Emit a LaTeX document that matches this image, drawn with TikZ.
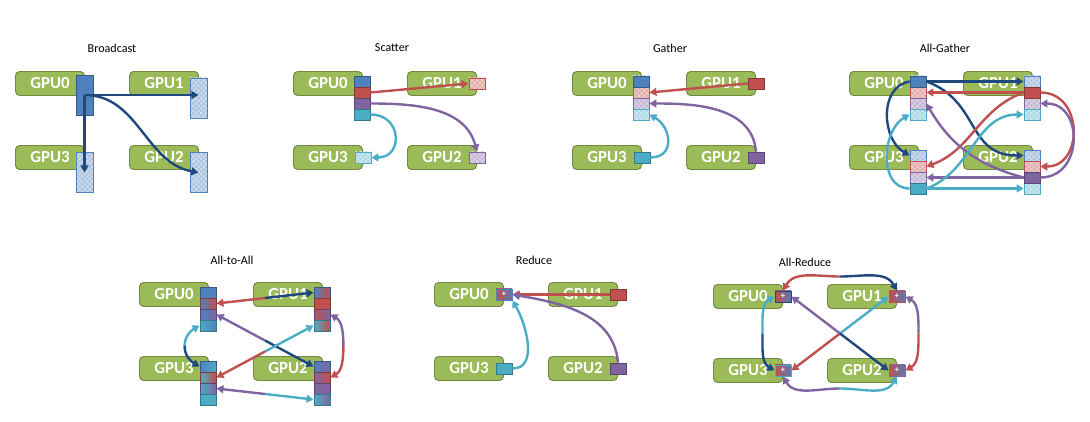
\documentclass[tikz,border=0pt]{standalone}
\usepackage{fontspec}
\setmainfont{Carlito}
\usetikzlibrary{arrows.meta, patterns, calc}

\definecolor{gpugreen}{HTML}{9BBB59}
\definecolor{gpuedge}{HTML}{71893F}
\definecolor{cblue}{HTML}{4F81BD}
\definecolor{cred}{HTML}{C0504D}
\definecolor{cpurple}{HTML}{8064A2}
\definecolor{cteal}{HTML}{4BACC6}
\definecolor{cdark}{HTML}{1F497D}

% small checker for data that is not yet there
\pgfdeclarepatternformonly{finechecker}{\pgfqpoint{-.05pt}{-.05pt}}{\pgfqpoint{3.65pt}{3.65pt}}{\pgfqpoint{3.6pt}{3.6pt}}{
  \pgfpathrectangle{\pgfpointorigin}{\pgfqpoint{1.85pt}{1.85pt}}
  \pgfpathrectangle{\pgfqpoint{1.8pt}{1.8pt}}{\pgfqpoint{1.85pt}{1.85pt}}
  \pgfusepath{fill}}

\tikzset{
  gpubox/.style={rectangle, rounded corners=3pt, fill=gpugreen, draw=gpuedge, line width=0.7pt,
    minimum width=1.725cm, minimum height=0.6cm, inner sep=0pt, anchor=north west,
    text=white, font=\bfseries\fontsize{12}{12}\selectfont},
  paneltitle/.style={font=\fontsize{8.6}{10}\selectfont},
  chunk/.style={rectangle, minimum width=0.4cm, minimum height=0.275cm, inner sep=0pt,
    line width=0.6pt, draw=#1!70!black, fill=#1},
  ghost/.style={rectangle, minimum width=0.4cm, minimum height=0.275cm, inner sep=0pt,
    line width=0.6pt, draw=#1, preaction={fill=#1!48!white}, pattern=finechecker,
    pattern color=#1!30!white},
  blendchunk/.style n args={3}{rectangle, minimum width=0.4cm, minimum height=0.275cm,
    inner sep=0pt, line width=0.6pt, draw=#3!70!black, left color=#1, right color=#2},
  sumchunk/.style={rectangle, minimum width=0.4cm, minimum height=0.275cm, inner sep=0pt,
    line width=0.7pt, draw=#1, left color=cred, right color=cblue!70!cpurple,
    text=white, font=\bfseries\fontsize{6}{6}\selectfont},
  flow/.style={draw=#1, line width=1.7pt, -{Triangle[length=5pt,width=5.6pt]}}
}

\begin{document}
\begin{tikzpicture}[x=0.025cm, y=-0.025cm]
\useasboundingbox (0,0) rectangle (1090,421);

% Broadcast
\begin{scope}[shift={(15,71)}]
  \node[paneltitle] (bct) at (97,-23) {Broadcast};
  \foreach \n/\x/\y in {0/0/0, 1/114/0, 3/0/74, 2/114/74}
    \node[gpubox] (bc\n) at (\x,\y) {GPU\n};
  \node[chunk=cblue, minimum width=0.425cm, minimum height=1cm] (bc0d) at (69.5,24) {};
  \node[ghost=cblue, minimum width=0.425cm, minimum height=1cm] (bc1d) at (183.5,27) {};
  \node[ghost=cblue, minimum width=0.425cm, minimum height=1cm] (bc3d) at (69.5,101.5) {};
  \node[ghost=cblue, minimum width=0.425cm, minimum height=1cm] (bc2d) at (183.5,101.5) {};
  \draw[flow=cdark] (bc0d.center) -- (bc0d.center -| bc1d.center);
  \draw[flow=cdark] (bc0d.center) -- (bc3d.center);
  \draw[flow=cdark] (bc0d.center) to[out=0, in=170] (bc2d.center);
\end{scope}

% Scatter
\begin{scope}[shift={(293,71)}]
  \node[paneltitle] (sct) at (99,-23) {Scatter};
  \foreach \n/\x/\y in {0/0/0, 1/114/0, 3/0/74, 2/114/74}
    \node[gpubox] (sc\n) at (\x,\y) {GPU\n};
  \foreach \i/\col in {1/cblue, 2/cred, 3/cpurple, 4/cteal}
    \node[chunk=\col] (sc0d\i) at (69,{-0.5+11*\i}) {};
  \node[ghost=cred] (sc1d) at (sc1.east) {};
  \node[ghost=cteal] (sc3d) at (sc3.east) {};
  \node[ghost=cpurple] (sc2d) at (sc2.east) {};
  \draw[flow=cred] (sc0d2.east) -- (sc1d.west);
  \draw[flow=cpurple] (sc0d3.east) to[out=0, in=105] (sc2d.north);
  \draw[flow=cteal] (sc0d4.east) to[out=0, in=0, looseness=1.9] (sc3d.east);
\end{scope}

% Gather
\begin{scope}[shift={(572,71)}]
  \node[paneltitle] (gat) at (98,-23) {Gather};
  \foreach \n/\x/\y in {0/0/0, 1/114/0, 3/0/74, 2/114/74}
    \node[gpubox] (ga\n) at (\x,\y) {GPU\n};
  \foreach \i/\col in {1/cblue, 2/cred, 3/cpurple, 4/cteal}
    \node[ghost=\col] (ga0d\i) at (69,{-0.5+11*\i}) {};
  \node[chunk=cblue] (ga0own) at (ga0d1) {};
  \node[chunk=cred] (ga1d) at (ga1.east) {};
  \node[chunk=cteal] (ga3d) at (ga3.east) {};
  \node[chunk=cpurple] (ga2d) at (ga2.east) {};
  \draw[flow=cred] (ga1d.west) -- (ga0d2.east);
  \draw[flow=cpurple] (ga2d.north) to[out=95, in=0] (ga0d3.east);
  \draw[flow=cteal] (ga3d.east) to[out=0, in=-30, looseness=1.5] (ga0d4.east);
\end{scope}

% All-Gather
\begin{scope}[shift={(849,71)}]
  \node[paneltitle] (agt) at (96,-23) {All-Gather};
  \foreach \n/\x/\y in {0/0/0, 1/114/0, 3/0/74, 2/114/74}
    \node[gpubox] (ag\n) at (\x,\y) {GPU\n};
  \foreach \i/\col in {1/cblue, 2/cred, 3/cpurple, 4/cteal} {
    \node[ghost=\col] (ag0d\i) at (69,{-0.5+11*\i}) {};
    \node[ghost=\col] (ag1d\i) at (183,{-0.5+11*\i}) {};
    \node[ghost=\col] (ag3d\i) at (69,{73.5+11*\i}) {};
    \node[ghost=\col] (ag2d\i) at (183,{73.5+11*\i}) {};
  }
  % own data on top
  \node[chunk=cblue] (ag0own) at (ag0d1) {};
  \node[chunk=cred] (ag1own) at (ag1d2) {};
  \node[chunk=cpurple] (ag2own) at (ag2d3) {};
  \node[chunk=cteal] (ag3own) at (ag3d4) {};
  \draw[flow=cdark] (ag0d1.east) -- (ag1d1.west);
  \draw[flow=cdark] (ag0d1.west) to[out=190, in=150, looseness=1.1] (ag3d1.west);
  \draw[flow=cdark] (ag0d1.east) to[out=-20, in=180, looseness=1.2] (ag2d1.west);
  \draw[flow=cred] (ag1d2.west) -- (ag0d2.east);
  \draw[flow=cred] (ag1d2.west) to[out=200, in=20] (ag3d2.east);
  \draw[flow=cred] (ag1d2.east) to[out=0, in=0, looseness=1.5] (ag2d2.east);
  \draw[flow=cpurple] (ag2d3.west) -- (ag3d3.east);
  \draw[flow=cpurple] (ag2d3.east) to[out=0, in=0, looseness=1.5] (ag1d3.east);
  \draw[flow=cpurple] (ag2d3.west) to[out=165, in=-60] (ag0d3.east);
  \draw[flow=cteal] (ag3d4.east) -- (ag2d4.west);
  \draw[flow=cteal] (ag3d4.west) to[out=180, in=210, looseness=1.1] (ag0d4.west);
  \draw[flow=cteal] (ag3d4.east) to[out=20, in=180] (ag1d4.west);
\end{scope}

% All-to-All
\begin{scope}[shift={(139,282)}]
  \node[paneltitle] (aat) at (93,-22) {All-to-All};
  \foreach \n/\x/\y in {0/0/0, 1/114/0, 3/0/74, 2/114/74}
    \node[gpubox] (aa\n) at (\x,\y) {GPU\n};
  \foreach \i/\lc/\rc/\ec in {1/cblue/cblue/cblue, 2/cblue/cred/cred, 3/cblue/cpurple/cpurple, 4/cteal/cblue/cteal}
    \node[blendchunk={\lc}{\rc}{\ec}] (aa0d\i) at (69,{-0.5+11*\i}) {};
  \foreach \i/\lc/\rc/\ec in {1/cblue/cred/cblue, 2/cred/cred/cred, 3/cred/cpurple/cpurple, 4/cteal/cred/cteal}
    \node[blendchunk={\lc}{\rc}{\ec}] (aa1d\i) at (183,{-0.5+11*\i}) {};
  \foreach \i/\lc/\rc/\ec in {1/cblue/cteal/cblue, 2/cteal/cred/cred, 3/cteal/cpurple/cpurple, 4/cteal/cteal/cteal}
    \node[blendchunk={\lc}{\rc}{\ec}] (aa3d\i) at (69,{73.5+11*\i}) {};
  \foreach \i/\lc/\rc/\ec in {1/cblue/cpurple/cblue, 2/cpurple/cred/cred, 3/cpurple/cpurple/cpurple, 4/cteal/cpurple/cteal}
    \node[blendchunk={\lc}{\rc}{\ec}] (aa2d\i) at (183,{73.5+11*\i}) {};
  % each exchange is drawn as two halves
  \coordinate (aam1) at ($(aa0d2.east)!0.5!(aa1d1.west)$);
  \draw[flow=cred] (aam1) -- (aa0d2.east);
  \draw[flow=cdark] (aam1) -- (aa1d1.west);
  \coordinate (aam2) at ($(aa0d3.east)!0.5!(aa2d1.west)$);
  \draw[flow=cpurple] (aam2) -- (aa0d3.east);
  \draw[flow=cdark] (aam2) -- (aa2d1.west);
  \coordinate (aam3) at ($(aa1d4.west)!0.5!(aa3d2.east)$);
  \draw[flow=cteal] (aam3) -- (aa1d4.west);
  \draw[flow=cred] (aam3) -- (aa3d2.east);
  \coordinate (aam4) at ($(aa3d3.east)!0.5!(aa2d4.west)$);
  \draw[flow=cpurple] (aam4) -- (aa3d3.east);
  \draw[flow=cteal] (aam4) -- (aa2d4.west);
  \coordinate (aam5) at ($(aa0d4.west)!0.5!(aa3d1.west)+(-15,0)$);
  \draw[flow=cteal] (aam5) to[out=90, in=210] (aa0d4.west);
  \draw[flow=cdark] (aam5) to[out=-90, in=150] (aa3d1.west);
  \coordinate (aam6) at ($(aa1d3.east)!0.5!(aa2d2.east)+(13,0)$);
  \draw[flow=cpurple] (aam6) to[out=90, in=-30] (aa1d3.east);
  \draw[flow=cred] (aam6) to[out=-90, in=30] (aa2d2.east);
\end{scope}

% Reduce
\begin{scope}[shift={(434,282)}]
  \node[paneltitle] (rdt) at (100,-22) {Reduce};
  \foreach \n/\x/\y in {0/0/0, 1/114/0, 3/0/74, 2/114/74}
    \node[gpubox] (rd\n) at (\x,\y) {GPU\n};
  \node[sumchunk=cblue] (rd0d) at (rd0.east) {+};
  \node[chunk=cred] (rd1d) at (rd1.east) {};
  \node[chunk=cteal] (rd3d) at (rd3.east) {};
  \node[chunk=cpurple] (rd2d) at (rd2.east) {};
  \draw[flow=cred] (rd1d.west) -- (rd0d.east);
  \draw[flow=cpurple] (rd2d.north) to[out=95, in=-10] (rd0d.east);
  \draw[flow=cteal] (rd3d.east) to[out=0, in=-60] (rd0d.south east);
\end{scope}

% All-Reduce
\begin{scope}[shift={(713,284)}]
  \node[paneltitle] (art) at (92,-22) {All-Reduce};
  \foreach \n/\x/\y in {0/0/0, 1/114/0, 3/0/74, 2/114/74}
    \node[gpubox] (ar\n) at (\x,\y) {GPU\n};
  \node[sumchunk=cdark] (ar0d) at (ar0.east) {+};
  \node[sumchunk=cred] (ar1d) at (ar1.east) {+};
  \node[sumchunk=cteal] (ar3d) at (ar3.east) {+};
  \node[sumchunk=cpurple] (ar2d) at (ar2.east) {+};
  \coordinate (arm1) at ($(ar0d.north)!0.5!(ar1d.north)+(0,-14)$);
  \draw[flow=cred] (arm1) to[out=180, in=60] (ar0d.north);
  \draw[flow=cdark] (arm1) to[out=0, in=120] (ar1d.north);
  \coordinate (arm2) at ($(ar3d.south)!0.5!(ar2d.south)+(0,12)$);
  \draw[flow=cpurple] (arm2) to[out=180, in=-60] (ar3d.south);
  \draw[flow=cteal] (arm2) to[out=0, in=-120] (ar2d.south);
  \coordinate (arm3) at ($(ar0d.west)!0.5!(ar3d.west)+(-12,0)$);
  \draw[flow=cteal] (arm3) to[out=90, in=210] (ar0d.west);
  \draw[flow=cdark] (arm3) to[out=-90, in=150] (ar3d.west);
  \coordinate (arm4) at ($(ar1d.east)!0.5!(ar2d.east)+(13,0)$);
  \draw[flow=cpurple] (arm4) to[out=90, in=-30] (ar1d.east);
  \draw[flow=cred] (arm4) to[out=-90, in=30] (ar2d.east);
  \coordinate (arm5) at ($(ar1d.west)!0.5!(ar3d.east)$);
  \draw[flow=cteal] (arm5) -- (ar1d.west);
  \draw[flow=cred] (arm5) -- (ar3d.east);
  \coordinate (arm6) at ($(ar0d.east)!0.5!(ar2d.west)$);
  \draw[flow=cpurple] (arm6) -- (ar0d.east);
  \draw[flow=cdark] (arm6) -- (ar2d.west);
\end{scope}

\end{tikzpicture}
\end{document}
